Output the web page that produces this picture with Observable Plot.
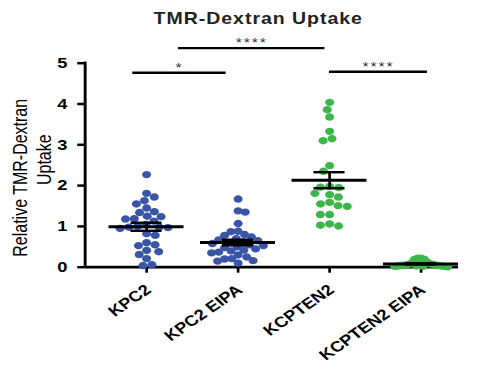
<!DOCTYPE html>
<html><head><meta charset="utf-8">
<script src="https://cdn.jsdelivr.net/npm/d3@7"></script>
<script src="https://cdn.jsdelivr.net/npm/@observablehq/plot@0.6"></script>
<style>body{margin:0;background:#fff;}</style>
</head><body><div id="chart"></div>
<script>
const titleText = "TMR-Dextran Uptake";
const yTitleLine1 = "Relative TMR-Dextran";
const yTitleLine2 = "Uptake";
const categories = ["KPC2", "KPC2 EIPA", "KCPTEN2", "KCPTEN2 EIPA"];
const kpc2 = [2.27, 1.81, 1.72, 1.63, 1.55, 1.45, 1.36, 1.34, 1.25, 1.24, 1.19, 1.18, 1.13, 1.05, 1.0, 0.98, 0.98, 0.97, 0.95, 0.82, 0.78, 0.60, 0.55, 0.53, 0.41, 0.38, 0.31, 0.21, 0.06, 0.04];
const kpc2Eipa = [1.67, 1.38, 1.35, 1.07, 0.88, 0.87, 0.80, 0.78, 0.74, 0.70, 0.67, 0.65, 0.62, 0.60, 0.58, 0.55, 0.53, 0.50, 0.48, 0.45, 0.42, 0.40, 0.37, 0.35, 0.30, 0.25, 0.21, 0.20, 0.16, 0.15, 0.10];
const kcpten2 = [4.04, 3.86, 3.68, 3.33, 3.15, 3.10, 2.49, 2.35, 1.98, 1.96, 1.95, 1.81, 1.78, 1.72, 1.59, 1.55, 1.51, 1.49, 1.29, 1.29, 1.06, 1.03, 1.01];
const kcpten2Eipa = [0.22, 0.22, 0.19, 0.19, 0.12, 0.10, 0.08, 0.07, 0.06, 0.05, 0.05, 0.04, 0.04, 0.03, 0.03, 0.03, 0.02, 0.02, 0.02, 0.01];
const groupColors = ["#3b55a6", "#3b55a6", "#3cb54a", "#3cb54a"];
const yTicks = [0, 1, 2, 3, 4, 5];
const sigLabels = ["*", "****", "****"];
const sigFrom = [-0.15, 2.0, 0.35];
const sigTo = [0.87, 3.07, 1.95];
const sigLevel = [4.765, 4.79, 5.37];

const series = [kpc2, kpc2Eipa, kcpten2, kcpten2Eipa];

// layout (drawn in a narrower box, then stretched horizontally like the reference)
const S = 1.22, W = 491 / S, H = 371;
const mL = 69.3, mR = W - 375.4, mT = 62.7, mB = 104.3;
const xDomain = [-0.672, 3.41];
const pxPerX = (W - mL - mR) / (xDomain[1] - xDomain[0]);
const pxPerY = (H - mT - mB) / 5;
const R = 3.7;
const maxHalf = 0.29; // widest swarm half-width, in category units

function swarm(values, d) {
  const order = values.map((v, i) => i).sort((a, b) => values[b] - values[a]);
  const placed = [];
  const off = new Array(values.length);
  let flip = 1;
  for (const i of order) {
    const y = values[i] * pxPerY;
    const cands = [0];
    for (const p of placed) {
      const dy = Math.abs(p.y - y);
      if (dy < d) { const dx = Math.sqrt(d * d - dy * dy); cands.push(p.x + dx, p.x - dx); }
    }
    cands.sort((a, b) => Math.abs(a) - Math.abs(b) || (flip * (b - a)));
    flip = -flip;
    const x = cands.find(c => placed.every(p => (p.x - c) ** 2 + (p.y - y) ** 2 >= d * d - 1e-6));
    placed.push({x, y});
    off[i] = x / pxPerX;
  }
  const ext = d3.max(off, Math.abs);
  const k = ext > maxHalf ? maxHalf / ext : 1;
  return off.map(o => o * k);
}

const points = series.flatMap((vals, gi) => {
  const offs = swarm(vals, 7.6);
  return vals.map((v, k) => ({g: gi, value: v, xpos: gi + offs[k], color: groupColors[gi]}));
});
const stats = series.map((vals, i) => {
  const m = d3.mean(vals);
  const sem = d3.deviation(vals) / Math.sqrt(vals.length);
  return {i, mean: m, sem};
});
const caps = stats.flatMap(s => [{i: s.i, y: s.mean - s.sem}, {i: s.i, y: s.mean + s.sem}]);
const sigIdx = sigLabels.map((d, i) => i);
const midY = (mT + (H - mB)) / 2;

const chart = Plot.plot({
  width: W, height: H,
  marginLeft: mL, marginRight: mR, marginTop: mT, marginBottom: mB,
  style: {fontFamily: "'Liberation Sans', Arial, sans-serif", color: "black", background: "white", overflow: "visible"},
  x: {domain: xDomain},
  y: {domain: [0, 5]},
  marks: [
    Plot.axisY({ticks: yTicks, tickSize: 6, tickPadding: 8.5, fontSize: 15, fontWeight: "bold", strokeWidth: 2.5, tickFormat: d3.format("d"), label: null}),
    Plot.axisX({ticks: [0, 1, 2, 3], tickSize: 6, tickFormat: () => "", strokeWidth: 2.2, label: null}),
    Plot.ruleY([0], {strokeWidth: 2.7}),
    Plot.ruleX([xDomain[0]], {y1: 0, y2: 5, strokeWidth: 2.4, strokeLinecap: "square"}),
    Plot.dot(points, {x: "xpos", y: "value", r: R, fill: "color", stroke: "none"}),
    Plot.ruleY(stats, {y: "mean", x1: d => d.i - 0.41, x2: d => d.i + 0.41, strokeWidth: 3}),
    Plot.ruleX(stats, {x: "i", y1: d => d.mean - d.sem, y2: d => d.mean + d.sem, strokeWidth: 2.2}),
    Plot.ruleY(caps, {y: "y", x1: d => d.i - 0.17, x2: d => d.i + 0.17, strokeWidth: 2.4}),
    Plot.ruleY(sigIdx, {y: i => sigLevel[i], x1: i => sigFrom[i], x2: i => sigTo[i], strokeWidth: 2.4}),
    Plot.text(sigIdx, {x: i => (sigFrom[i] + sigTo[i]) / 2, y: i => sigLevel[i], text: i => sigLabels[i], lineAnchor: "bottom", dy: -1, fontSize: 13, fill: "#333"}),
    Plot.text(categories, {x: (d, i) => i, text: d => d, frameAnchor: "bottom", dx: 4.6, dy: 24.3, rotate: -40, textAnchor: "end", lineAnchor: "bottom", fontWeight: "bold", fontSize: 15}),
    Plot.text([titleText], {frameAnchor: "top", dx: 211.2 - (mL + (W - mR)) / 2, dy: 23.3 - mT, textAnchor: "middle", lineAnchor: "bottom", fontWeight: "bold", fontSize: 16, fill: "#222"}),
    Plot.text([yTitleLine1], {frameAnchor: "left", dx: 21.9 - mL, dy: 177.3 - midY, rotate: -90, textAnchor: "middle", lineAnchor: "bottom", fontSize: 16}),
    Plot.text([yTitleLine2], {frameAnchor: "left", dx: 41 - mL, dy: 159.2 - midY, rotate: -90, textAnchor: "middle", lineAnchor: "bottom", fontSize: 16})
  ]
});

chart.querySelectorAll("text").forEach(t => {
  if (t.textContent === titleText) t.style.letterSpacing = "0.8px";
  if (/^\*+$/.test(t.textContent)) t.style.letterSpacing = "1.5px";
});
chart.setAttribute("width", 491);
chart.setAttribute("height", 371);
chart.setAttribute("preserveAspectRatio", "none");
chart.style.width = "491px";
chart.style.height = "371px";
chart.style.maxWidth = "none";
document.getElementById("chart").appendChild(chart);
</script></body></html>
